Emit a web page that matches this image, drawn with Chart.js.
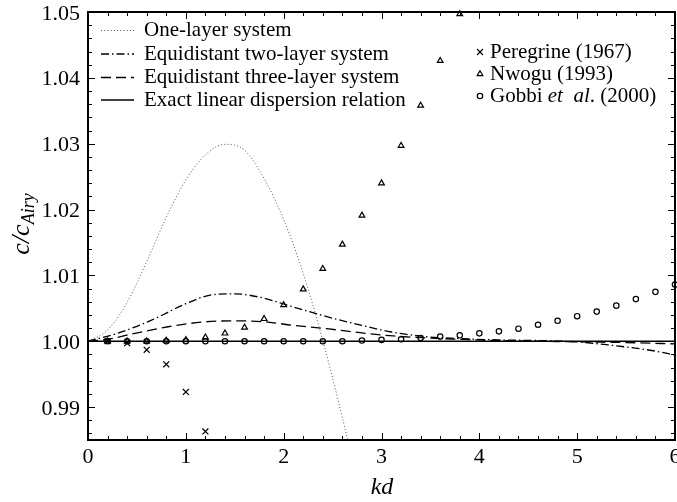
<!DOCTYPE html>
<html>
<head>
<meta charset="utf-8">
<script src="https://cdn.jsdelivr.net/npm/chart.js"></script>
<style>
  html, body { margin: 0; padding: 0; background: #fff; }
</style>
</head>
<body>
<canvas id="chart" width="677" height="502"></canvas>
<script>
// axis ticks
const kdTicks = [0, 1, 2, 3, 4, 5, 6];
const ratioTicks = [0.99, 1.00, 1.01, 1.02, 1.03, 1.04, 1.05];

// one-layer system
const oneLayerKd  = [0, 0.2, 0.4, 0.6, 0.8, 1.0, 1.2, 1.4, 1.6, 1.8, 2.0, 2.2, 2.4, 2.6, 2.7];
const oneLayerVal = [1.0, 1.0017, 1.0059, 1.0121, 1.0188, 1.0245, 1.0283, 1.0299, 1.0290, 1.0247, 1.0185, 1.0103, 1.0001, 0.9884, 0.9820];

// equidistant two-layer system
const twoLayerKd  = [0, 0.3, 0.65, 1.0, 1.25, 1.5, 1.75, 2.1, 2.45, 2.8, 3.1, 3.45, 3.8, 4.2, 4.6, 5.0, 5.4, 5.8, 6.0];
const twoLayerVal = [1.0, 1.0012, 1.0032, 1.0057, 1.0070, 1.0072, 1.0067, 1.0052, 1.0037, 1.0024, 1.0014, 1.0007, 1.0004, 1.0002, 1.0001, 0.9999, 0.9993, 0.9985, 0.9979];

// equidistant three-layer system
const threeLayerKd  = [0, 0.2, 0.48, 0.82, 1.16, 1.5, 1.84, 2.1, 2.44, 2.78, 3.12, 3.46, 3.8, 4.2, 4.6, 5.0, 5.5, 6.0];
const threeLayerVal = [1.0, 1.0003, 1.0012, 1.0022, 1.0029, 1.0031, 1.0029, 1.0024, 1.0019, 1.0013, 1.0008, 1.0005, 1.0003, 1.0001, 1.0, 0.9999, 0.9998, 0.9996];

// exact linear dispersion relation
const exactKd  = [0, 6];
const exactVal = [1.0, 1.0];

// Peregrine (1967)
const peregrineKd  = [0.2, 0.4, 0.6, 0.8, 1.0, 1.2];
const peregrineVal = [1.0000, 0.9997, 0.9987, 0.9965, 0.9923, 0.9863];

// Nwogu (1993)
const nwoguKd  = [0.2, 0.4, 0.6, 0.8, 1.0, 1.2, 1.4, 1.6, 1.8, 2.0, 2.2, 2.4, 2.6, 2.8, 3.0, 3.2, 3.4, 3.6, 3.8];
const nwoguVal = [1.0000, 1.0000, 1.0000, 1.0001, 1.0002, 1.0006, 1.0012, 1.0021, 1.0034, 1.0055, 1.0079, 1.0110, 1.0147, 1.0191, 1.0240, 1.0297, 1.0358, 1.0426, 1.0497];

// Gobbi et al. (2000)
const gobbiKd  = [0.2, 0.4, 0.6, 0.8, 1.0, 1.2, 1.4, 1.6, 1.8, 2.0, 2.2, 2.4, 2.6, 2.8, 3.0,
                  3.2, 3.4, 3.6, 3.8, 4.0, 4.2, 4.4, 4.6, 4.8, 5.0, 5.2, 5.4, 5.6, 5.8, 6.0];
const gobbiVal = [1.0, 1.0, 1.0, 1.0, 1.0, 1.0, 1.0, 1.0, 1.0, 1.0, 1.0, 1.0, 1.0, 1.0001, 1.0002,
                  1.0003, 1.0005, 1.0007, 1.0009, 1.0012, 1.0015, 1.0019, 1.0025, 1.0031, 1.0038, 1.0045, 1.0054, 1.0064, 1.0075, 1.0086];

const SERIF = "'Liberation Serif', 'Times New Roman', serif";
const FS = 21;      // legend text
const TICK_FS = 22; // axis numbers

function pts(xs, ys) {
  return xs.map((x, i) => ({ x: x, y: ys[i] }));
}

function curve(label, xs, ys, dash, color, width) {
  return {
    label: label,
    data: pts(xs, ys),
    showLine: true,
    borderColor: color,
    borderWidth: width,
    borderDash: dash,
    pointRadius: 0,
    cubicInterpolationMode: 'monotone',
    fill: false
  };
}

function markers(label, xs, ys, style, radius) {
  return {
    label: label,
    data: pts(xs, ys),
    showLine: false,
    pointStyle: style,
    pointRadius: radius,
    pointBorderWidth: 1.2,
    pointBorderColor: '#000',
    pointBackgroundColor: 'rgba(0,0,0,0)',
    clip: false
  };
}

// frame, inward ticks on all four sides, tick labels outside the frame
const frameTicks = {
  id: 'frameTicks',
  afterDatasetsDraw(chart) {
    const { ctx, chartArea: a, scales } = chart;
    const x = scales.x, y = scales.y;
    ctx.save();
    ctx.strokeStyle = '#000';
    ctx.lineWidth = 1;
    ctx.beginPath();
    for (let i = 0; i <= 30; i++) {
      const px = Math.round(x.getPixelForValue(i * 0.2)) + 0.5;
      const len = i % 5 === 0 ? 7 : 4;
      ctx.moveTo(px, a.bottom); ctx.lineTo(px, a.bottom - len);
      ctx.moveTo(px, a.top); ctx.lineTo(px, a.top + len);
    }
    for (let i = 0; i <= 32; i++) {
      const v = 0.986 + i * 0.002;
      const py = Math.round(y.getPixelForValue(v)) + 0.5;
      const len = Math.round(v * 1000) % 10 === 0 ? 7 : 4;
      ctx.moveTo(a.left, py); ctx.lineTo(a.left + len, py);
      ctx.moveTo(a.right, py); ctx.lineTo(a.right - len, py);
    }
    ctx.stroke();
    ctx.lineWidth = 2;
    ctx.strokeRect(a.left, a.top, a.right - a.left, a.bottom - a.top);

    ctx.fillStyle = '#000';
    ctx.font = TICK_FS + 'px ' + SERIF;
    ctx.textAlign = 'center';
    ctx.textBaseline = 'alphabetic';
    kdTicks.forEach(v => ctx.fillText(String(v), x.getPixelForValue(v), a.bottom + 23));
    ctx.textAlign = 'right';
    ratioTicks.forEach(v => ctx.fillText(v.toFixed(2), a.left - 8, y.getPixelForValue(v) + 7.5));
    ctx.restore();
  }
};

// legends and axis titles
const annotations = {
  id: 'annotations',
  afterDraw(chart) {
    const { ctx } = chart;
    const ds = chart.data.datasets;
    ctx.save();
    ctx.fillStyle = '#000';
    ctx.textBaseline = 'alphabetic';
    ctx.font = FS + 'px ' + SERIF;

    // line legend, upper left
    const lineRows = [36, 59.5, 83, 105.5];
    for (let i = 0; i < 4; i++) {
      const d = ds[i];
      const yy = lineRows[i] - 5.5;
      ctx.save();
      ctx.strokeStyle = d.borderColor;
      ctx.lineWidth = d.borderWidth;
      ctx.setLineDash(d.borderDash || []);
      ctx.beginPath();
      ctx.moveTo(101, yy); ctx.lineTo(134, yy);
      ctx.stroke();
      ctx.restore();
      ctx.fillText(d.label, 144, lineRows[i]);
    }

    // marker legend, upper right
    const markRows = [58, 80, 102];
    for (let i = 0; i < 3; i++) {
      const d = ds[4 + i];
      const yy = markRows[i] - 6;
      ctx.save();
      ctx.strokeStyle = '#000';
      ctx.fillStyle = 'rgba(0,0,0,0)';
      ctx.lineWidth = d.pointBorderWidth;
      Chart.helpers.drawPoint(ctx, { pointStyle: d.pointStyle, radius: d.pointRadius, rotation: 0, borderWidth: d.pointBorderWidth }, 480, yy);
      ctx.restore();
      if (i < 2) {
        ctx.fillText(d.label, 490, markRows[i]);
      } else {
        let xx = 490;
        ctx.font = FS + 'px ' + SERIF;
        ctx.fillText('Gobbi ', xx, markRows[i]); xx += ctx.measureText('Gobbi ').width;
        ctx.font = 'italic ' + FS + 'px ' + SERIF;
        ctx.fillText('et  al', xx, markRows[i]); xx += ctx.measureText('et  al').width;
        ctx.font = FS + 'px ' + SERIF;
        ctx.fillText('. (2000)', xx, markRows[i]);
      }
    }

    // x title
    ctx.font = 'italic 24px ' + SERIF;
    ctx.textAlign = 'center';
    ctx.fillText('kd', 382, 494);

    // y title, rotated
    ctx.translate(29, 224);
    ctx.rotate(-Math.PI / 2);
    ctx.textAlign = 'left';
    ctx.font = 'italic 26px ' + SERIF;
    const main = 'c/c';
    const wMain = ctx.measureText(main).width;
    ctx.font = 'italic 18px ' + SERIF;
    const wSub = ctx.measureText('Airy').width;
    const x0 = -(wMain + wSub) / 2;
    ctx.font = 'italic 26px ' + SERIF;
    ctx.fillText(main, x0, 0);
    ctx.font = 'italic 18px ' + SERIF;
    ctx.fillText('Airy', x0 + wMain, 5);
    ctx.restore();
  }
};

new Chart(document.getElementById('chart'), {
  type: 'scatter',
  data: {
    datasets: [
      curve('One-layer system', oneLayerKd, oneLayerVal, [1, 2.2], '#555', 1),
      curve('Equidistant two-layer system', twoLayerKd, twoLayerVal, [8, 3, 1.5, 3], '#000', 1.3),
      curve('Equidistant three-layer system', threeLayerKd, threeLayerVal, [10, 5], '#000', 1.3),
      curve('Exact linear dispersion relation', exactKd, exactVal, [], '#000', 1.4),
      markers('Peregrine (1967)', peregrineKd, peregrineVal, 'crossRot', 4.2),
      markers('Nwogu (1993)', nwoguKd, nwoguVal, 'triangle', 3.3),
      markers('Gobbi et al. (2000)', gobbiKd, gobbiVal, 'circle', 2.7)
    ]
  },
  options: {
    responsive: false,
    animation: false,
    events: [],
    layout: { autoPadding: false, padding: { top: 12, right: 2, left: 0, bottom: 0 } },
    plugins: { legend: { display: false }, tooltip: { enabled: false } },
    scales: {
      x: {
        type: 'linear',
        min: 0,
        max: 6,
        grid: { display: false, drawTicks: false },
        border: { display: false },
        afterBuildTicks: (s) => { s.ticks = kdTicks.map(v => ({ value: v })); },
        afterFit: (s) => { s.height = 62; },
        ticks: { display: false }
      },
      y: {
        type: 'linear',
        min: 0.985,
        max: 1.05,
        grid: { display: false, drawTicks: false },
        border: { display: false },
        afterBuildTicks: (s) => { s.ticks = ratioTicks.map(v => ({ value: v })); },
        afterFit: (s) => { s.width = 88; },
        ticks: { display: false }
      }
    }
  },
  plugins: [frameTicks, annotations]
});
</script>
</body>
</html>
